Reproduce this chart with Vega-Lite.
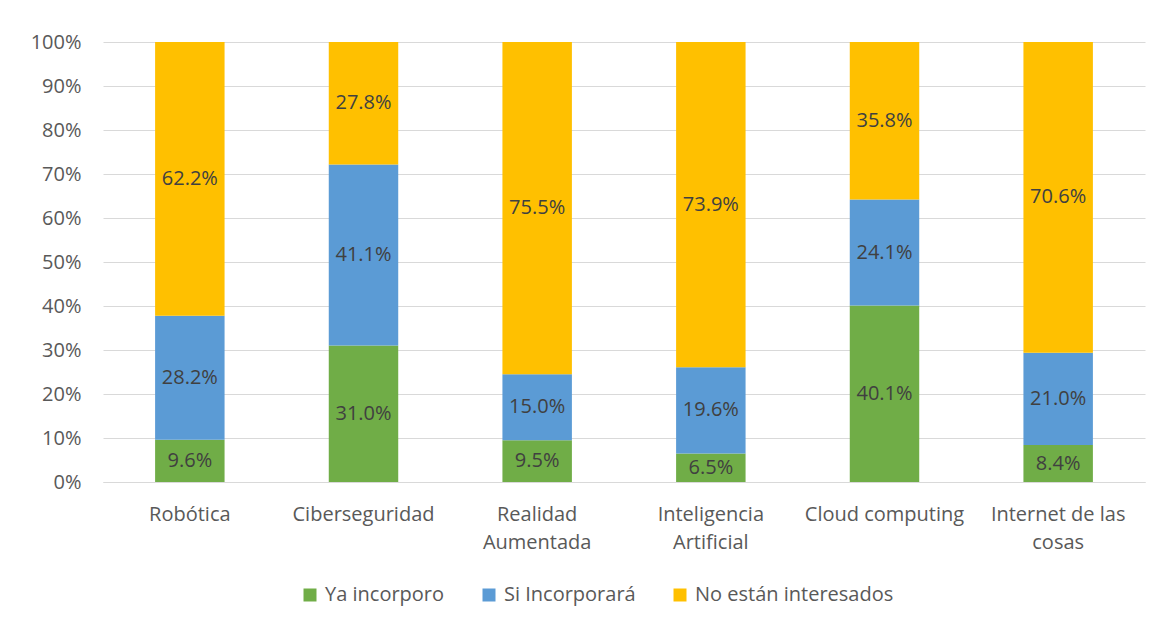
{
  "$schema": "https://vega.github.io/schema/vega-lite/v6.json",
  "width": 1042,
  "height": 440,
  "autosize": {"type": "none"},
  "padding": {"left": 103, "top": 42, "right": 28, "bottom": 145},
  "background": "white",
  "config": {"view": {"stroke": null}, "font": "Open Sans"},
  "data": {
    "values": [
      {"cat": "Robótica", "series": "Ya incorporo", "ord": 1, "value": 0.096},
      {"cat": "Robótica", "series": "Si Incorporará", "ord": 2, "value": 0.282},
      {"cat": "Robótica", "series": "No están interesados", "ord": 3, "value": 0.622},
      {"cat": "Ciberseguridad", "series": "Ya incorporo", "ord": 1, "value": 0.310},
      {"cat": "Ciberseguridad", "series": "Si Incorporará", "ord": 2, "value": 0.411},
      {"cat": "Ciberseguridad", "series": "No están interesados", "ord": 3, "value": 0.278},
      {"cat": "Realidad Aumentada", "series": "Ya incorporo", "ord": 1, "value": 0.095},
      {"cat": "Realidad Aumentada", "series": "Si Incorporará", "ord": 2, "value": 0.150},
      {"cat": "Realidad Aumentada", "series": "No están interesados", "ord": 3, "value": 0.755},
      {"cat": "Inteligencia Artificial", "series": "Ya incorporo", "ord": 1, "value": 0.065},
      {"cat": "Inteligencia Artificial", "series": "Si Incorporará", "ord": 2, "value": 0.196},
      {"cat": "Inteligencia Artificial", "series": "No están interesados", "ord": 3, "value": 0.739},
      {"cat": "Cloud computing", "series": "Ya incorporo", "ord": 1, "value": 0.401},
      {"cat": "Cloud computing", "series": "Si Incorporará", "ord": 2, "value": 0.241},
      {"cat": "Cloud computing", "series": "No están interesados", "ord": 3, "value": 0.358},
      {"cat": "Internet de las cosas", "series": "Ya incorporo", "ord": 1, "value": 0.084},
      {"cat": "Internet de las cosas", "series": "Si Incorporará", "ord": 2, "value": 0.210},
      {"cat": "Internet de las cosas", "series": "No están interesados", "ord": 3, "value": 0.706}
    ]
  },
  "transform": [
    {"stack": "value", "groupby": ["cat"], "sort": [{"field": "ord", "order": "ascending"}], "offset": "normalize", "as": ["y0", "y1"]},
    {"calculate": "(datum.y0 + datum.y1) / 2", "as": "ymid"}
  ],
  "encoding": {
    "x": {
      "field": "cat",
      "type": "nominal",
      "sort": null,
      "scale": {"paddingInner": 0.6, "paddingOuter": 0.3},
      "axis": {
        "title": null,
        "labelAngle": 0,
        "ticks": false,
        "domainColor": "#D9D9D9",
        "labelColor": "#595959",
        "labelFontSize": 20,
        "labelPadding": 22,
        "labelLineHeight": 28,
        "labelBaseline": "top",
        "labelLimit": 300,
        "labelExpr": "datum.label == 'Realidad Aumentada' ? ['Realidad', 'Aumentada'] : datum.label == 'Inteligencia Artificial' ? ['Inteligencia', 'Artificial'] : datum.label == 'Internet de las cosas' ? ['Internet de las', 'cosas'] : datum.label"
      }
    }
  },
  "layer": [
    {
      "mark": {"type": "bar"},
      "encoding": {
        "y": {
          "field": "y0",
          "type": "quantitative",
          "scale": {"domain": [0, 1]},
          "axis": {
            "title": null,
            "values": [0, 0.1, 0.2, 0.3, 0.4, 0.5, 0.6, 0.7, 0.8, 0.9, 1],
            "format": "%",
            "domain": false,
            "ticks": false,
            "gridColor": "#D9D9D9",
            "labelColor": "#595959",
            "labelFontSize": 20,
            "labelPadding": 22
          }
        },
        "y2": {"field": "y1"},
        "color": {
          "field": "series",
          "type": "nominal",
          "scale": {
            "domain": ["Ya incorporo", "Si Incorporará", "No están interesados"],
            "range": ["#70AD47", "#5B9BD5", "#FFC000"]
          },
          "legend": {
            "title": null,
            "orient": "none",
            "direction": "horizontal",
            "legendX": 197,
            "legendY": 543,
            "symbolType": "square",
            "symbolSize": 169,
            "symbolStrokeWidth": 0,
            "labelFontSize": 20,
            "labelLimit": 400,
            "labelColor": "#595959",
            "labelOffset": 5,
            "columnPadding": 34
          }
        }
      }
    },
    {
      "mark": {"type": "text", "fontSize": 20, "color": "#404040"},
      "encoding": {
        "y": {"field": "ymid", "type": "quantitative"},
        "text": {"field": "value", "type": "quantitative", "format": ".1%"}
      }
    }
  ]
}
